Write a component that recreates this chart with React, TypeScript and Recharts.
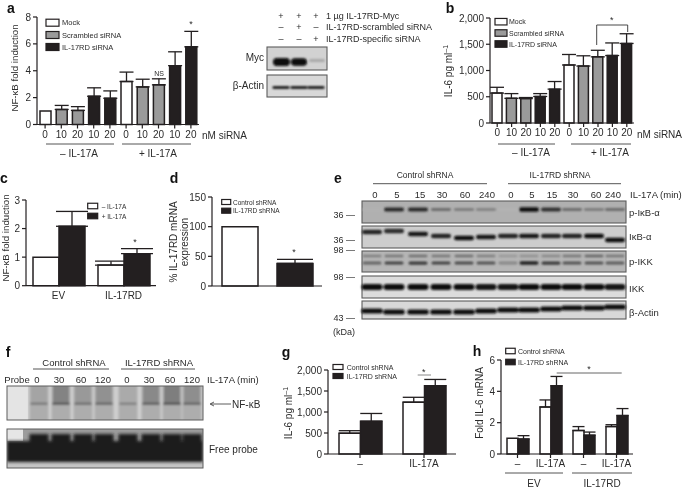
import React from "react";
import { BarChart, Bar, Cell, XAxis, YAxis, ErrorBar } from "recharts";

const INK = "#231f20";
const GREY = "#9a9a9a";
const FONT = "'Liberation Sans', Arial, sans-serif";

// panel a
const aDoses = ["0", "10", "20", "10", "20", "0", "10", "20", "10", "20"];
const aGroups = ["mock", "scr", "scr", "rd", "rd", "mock", "scr", "scr", "rd", "rd"];
const aValues = [1.0, 1.12, 1.05, 2.1, 1.95, 3.2, 2.8, 2.95, 4.38, 5.78];
const aErrors = [0, 0.3, 0.28, 0.63, 0.55, 0.7, 0.57, 0.45, 1.03, 1.15];

// panel b
const bValues = [570, 470, 465, 505, 645, 1105, 1085, 1260, 1285, 1515];
const bErrors = [110, 90, 20, 55, 145, 200, 195, 125, 240, 185];

// panel c
const cCategories = ["EV", "IL-17RD"];
const cMinus = [1, 0.72];
const cMinusErr = [0, 0.14];
const cPlus = [2.08, 1.12];
const cPlusErr = [0.52, 0.18];

// panel d
const dCategories = ["Control shRNA", "IL-17RD shRNA"];
const dValues = [100, 38];
const dErrors = [0, 7];

// panel g
const gCategories = ["–", "IL-17A"];
const gControl = [495, 1235];
const gControlErr = [60, 115];
const gKnock = [780, 1625];
const gKnockErr = [185, 150];

// panel h
const hCategories = ["–", "IL-17A", "–", "IL-17A"];
const hControl = [1, 3.0, 1.5, 1.75];
const hControlErr = [0, 0.45, 0.25, 0.12];
const hKnock = [0.95, 4.35, 1.2, 2.45];
const hKnockErr = [0.22, 0.6, 0.2, 0.45];

// blot band darkness per lane
const eLabels = ["0", "5", "15", "30", "60", "240", "0", "5", "15", "30", "60", "240"];
const ePIkb = [0.03, 0.85, 0.85, 0.45, 0.4, 0.35, 0.02, 1, 0.8, 0.45, 0.4, 0.45];
const eIkb = [0.9, 0.85, 0.95, 0.9, 1, 0.95, 0.9, 0.95, 0.9, 0.9, 1, 1];
const ePIkkUpper = [0.35, 0.4, 0.45, 0.4, 0.45, 0.35, 0.2, 0.25, 0.3, 0.4, 0.5, 0.4];
const ePIkkLower = [0.5, 0.7, 0.75, 0.7, 0.65, 0.6, 0.3, 0.9, 0.75, 0.6, 0.6, 0.55];
const eIkk = [1, 1, 1, 1, 1, 0.95, 0.95, 1, 1, 1, 1, 0.95];
const eActin = [1, 1, 1, 1, 1, 1, 1, 1, 1, 1, 1, 1];
const fLabels = ["0", "30", "60", "120", "0", "30", "60", "120"];
const fNfkb = [0.2, 0.8, 0.4, 0.55, 0.1, 0.7, 0.9, 0.6];

// layout of the blots
const eLaneX = [372, 394, 418, 441, 464, 486, 508, 529, 551, 572, 594, 615];
const eLabelX = [375, 397, 420, 442, 465, 487, 511, 532, 552, 573, 596, 613];
const eIkbY = [232, 231, 234, 236, 238, 237, 236, 236, 236, 236, 236, 240];
const eActinY = [311, 312, 312, 312, 312, 311, 310, 310, 309, 308, 308, 307];
const fLaneX = [39, 61, 83, 104, 128, 151, 172, 192];
const fLabelX = [37, 59, 81, 103, 127, 149, 170, 192];

const bandColors: Record<string, string> = { mock: "#fff", scr: GREY, rd: INK };

const errOf = (e: number) => (e ? [0, e] : null);
const oneSeries = (cats: string[], vals: number[], errs: number[]) =>
  cats.map((c, i) => ({ cat: c, v: vals[i], e: errOf(errs[i]) }));
const twoSeries = (cats: string[], v1: number[], e1: number[], v2: number[], e2: number[]) =>
  cats.map((c, i) => ({ cat: c, v1: v1[i], e1: errOf(e1[i]), v2: v2[i], e2: errOf(e2[i]) }));

const Y_W = 34;
const PAD = 6;

function Plot({ plot, data, domain, ticks, barSize, colors, two, capWidth = 7, tickX = true, labelX = true }: any) {
  const [l, t, r, b] = plot;
  const axis = { stroke: INK, strokeWidth: 1.2 };
  const tick = { fontSize: 10, fill: "#2b2b2b", fontFamily: FONT };
  return (
    <div style={{ position: "absolute", left: l - Y_W, top: t - PAD }}>
      <BarChart
        width={r - l + Y_W + 4}
        height={b - t + PAD + 22}
        data={data}
        barGap={0}
        barSize={barSize}
        margin={{ top: PAD, right: 4, left: 0, bottom: 0 }}
      >
        <XAxis
          dataKey="cat"
          interval={0}
          height={22}
          axisLine={axis}
          tick={labelX ? tick : false}
          tickLine={tickX ? axis : false}
          tickSize={4}
        />
        <YAxis
          width={Y_W}
          type="number"
          domain={domain}
          ticks={ticks}
          axisLine={axis}
          tickLine={axis}
          tickSize={4}
          tick={tick}
          tickFormatter={(v: number) => v.toLocaleString("en-US")}
        />
        {two ? (
          [["v1", "e1", "#fff"], ["v2", "e2", INK]].map(([k, e, fill]) => (
            <Bar key={k} dataKey={k} fill={fill} stroke={INK} strokeWidth={1.5} isAnimationActive={false}>
              <ErrorBar dataKey={e} width={capWidth} stroke={INK} strokeWidth={1.3} isAnimationActive={false} />
            </Bar>
          ))
        ) : (
          <Bar dataKey="v" stroke={INK} strokeWidth={1.5} isAnimationActive={false}>
            {data.map((_: any, i: number) => (
              <Cell key={i} fill={colors[i]} />
            ))}
            <ErrorBar dataKey="e" width={capWidth} stroke={INK} strokeWidth={1.3} isAnimationActive={false} />
          </Bar>
        )}
      </BarChart>
    </div>
  );
}

function T({ x, y, size = 9.5, anchor = "start", weight, rot, fill = "#2b2b2b", children }: any) {
  return (
    <text
      x={x}
      y={y}
      fontSize={size}
      textAnchor={anchor}
      fontWeight={weight}
      fill={fill}
      dominantBaseline="central"
      transform={rot ? `rotate(${rot} ${x} ${y})` : undefined}
    >
      {children}
    </text>
  );
}

const Line = ({ x1, x2, y, c = "#555", w = 1 }: any) => <line x1={x1} x2={x2} y1={y} y2={y} stroke={c} strokeWidth={w} />;

function Legend({ x, ys, w, h, tx, items, size = 7.5 }: any) {
  return (
    <g>
      {items.map(([label, fill]: string[], i: number) => (
        <g key={i}>
          <rect x={x} y={ys[i] - h / 2} width={w} height={h} fill={fill} stroke={INK} strokeWidth={1.2} />
          <T x={tx} y={ys[i]} size={size}>{label}</T>
        </g>
      ))}
    </g>
  );
}

// blurred western blot band, a rounded block centred on the lane
function Band({ x, y, hw, th, d }: any) {
  const v = Math.round(185 - d * 170);
  return <rect x={x - hw} y={y - th / 2} width={hw * 2} height={th} rx={th / 2} fill={`rgb(${v},${v},${v})`} />;
}

function Blot({ x, y, w, h, bg }: any) {
  return <rect x={x} y={y} width={w} height={h} fill={bg} stroke="#5c5c5c" strokeWidth={1.1} />;
}

const YTitle = ({ x, y, children, size = 10 }: any) => <T x={x} y={y} size={size} anchor="middle" rot={-90}>{children}</T>;

export default function App() {
  const il6 = (
    <>
      IL-6 pg ml<tspan dy={-3} fontSize={7}>–1</tspan>
    </>
  );
  const siRna = [["Mock", "#fff"], ["Scrambled siRNA", GREY], ["IL-17RD siRNA", INK]];
  const shRna = [["Control shRNA", "#fff"], ["IL-17RD shRNA", INK]];
  return (
    <div style={{ position: "absolute", left: 0, top: 0, width: 685, height: 488, background: "#fff", overflow: "hidden", fontFamily: FONT, filter: "blur(0.35px)" }}>
      <Plot plot={[37, 16.5, 199, 124]} data={oneSeries(aDoses, aValues, aErrors)} domain={[0, 8]} ticks={[0, 2, 4, 6, 8]} barSize={11} colors={aGroups.map((g) => bandColors[g])} />
      <Plot plot={[490, 18, 634, 123]} data={oneSeries(aDoses, bValues, bErrors)} domain={[0, 2000]} ticks={[0, 500, 1000, 1500, 2000]} barSize={10} colors={aGroups.map((g) => bandColors[g])} />
      <Plot plot={[26, 200, 156, 285.7]} data={twoSeries(cCategories, cMinus, cMinusErr, cPlus, cPlusErr)} domain={[0, 3]} ticks={[0, 1, 2, 3]} barSize={26} two capWidth={16} tickX={false} />
      <Plot plot={[212, 196.7, 322, 285.7]} data={oneSeries(dCategories, dValues, dErrors)} domain={[0, 150]} ticks={[0, 50, 100, 150]} barSize={36} colors={["#fff", INK]} capWidth={18} tickX={false} labelX={false} />
      <Plot plot={[328, 370, 456, 454]} data={twoSeries(gCategories, gControl, gControlErr, gKnock, gKnockErr)} domain={[0, 2000]} ticks={[0, 500, 1000, 1500, 2000]} barSize={21.5} two capWidth={11} />
      <Plot plot={[500.5, 360, 632.5, 454]} data={twoSeries(hCategories, hControl, hControlErr, hKnock, hKnockErr)} domain={[0, 6]} ticks={[0, 2, 4, 6]} barSize={11} two capWidth={6} />

      <svg width={685} height={488} style={{ position: "absolute", left: 0, top: 0, fontFamily: FONT, pointerEvents: "none" }}>
        <defs>
          <filter id="soft" x="-30%" y="-100%" width="160%" height="300%">
            <feGaussianBlur stdDeviation="0.9" />
          </filter>
          <filter id="softer" x="-10%" y="-10%" width="120%" height="120%">
            <feGaussianBlur stdDeviation="1.4" />
          </filter>
          <clipPath id="gel1"><rect x={7} y={386} width={196} height={34} /></clipPath>
          <clipPath id="gel2"><rect x={7} y={429} width={196} height={39} /></clipPath>
        </defs>

        {/* panel letters */}
        {[["a", 11, 8], ["b", 450, 8], ["c", 4, 178], ["d", 174, 178], ["e", 338, 178], ["f", 8, 352], ["g", 286, 352], ["h", 477, 351]].map(([s, x, y]: any) => (
          <T key={s} x={x} y={y} size={14} anchor="middle" weight="bold" fill="#111">{s}</T>
        ))}

        {/* a */}
        <YTitle x={14} y={68} size={9.7}>NF-κB fold induction</YTitle>
        <Legend x={46} ys={[22.7, 35, 47]} w={13} h={7} tx={62} items={siRna} />
        <T x={159} y={73} size={7} anchor="middle">NS</T>
        <T x={191} y={24} size={9} anchor="middle">*</T>
        <T x={202} y={135.7} size={10}>nM siRNA</T>
        <Line x1={46} x2={114} y={144} />
        <Line x1={122} x2={191} y={144} />
        <T x={79} y={153} size={10} anchor="middle">– IL-17A</T>
        <T x={158} y={153} size={10} anchor="middle">+ IL-17A</T>

        {/* blot next to a */}
        {[["+", "+", "+"], ["–", "+", "–"], ["–", "–", "+"]].map((row, i) =>
          row.map((s, j) => <T key={`${i}${j}`} x={[281, 299, 316][j]} y={[16, 27, 39][i]} size={9} anchor="middle">{s}</T>)
        )}
        <T x={326} y={16} size={9}>1 µg IL-17RD-Myc</T>
        <T x={326} y={27} size={9}>IL-17RD-scrambled siRNA</T>
        <T x={326} y={39} size={9}>IL-17RD-specific siRNA</T>
        <T x={264} y={57} size={10} anchor="end">Myc</T>
        <T x={264} y={85} size={10} anchor="end">β-Actin</T>
        <Blot x={267} y={47} w={60} h={23} bg="#d2d2d2" />
        <Blot x={267} y={75} w={60} h={22} bg="#d8d8d8" />
        <g filter="url(#soft)">
          <Band x={281.5} y={62} hw={8.5} th={8} d={1.05} />
          <Band x={299} y={62} hw={8} th={7.5} d={1.05} />
          <Band x={317} y={60.5} hw={8} th={3} d={0.1} />
        </g>
        <g filter="url(#soft)">
          {[281, 299, 316].map((x) => <Band key={x} x={x} y={87.5} hw={8.5} th={2.4} d={1.05} />)}
        </g>

        {/* b */}
        <YTitle x={448} y={71}>{il6}</YTitle>
        <Legend x={495} ys={[21.7, 33, 44]} w={12} h={6.5} tx={509} items={siRna} size={7} />
        <path d="M596.7 45 V25 H627.7 V32" fill="none" stroke="#333" strokeWidth={0.9} />
        <T x={611.7} y={20} size={9} anchor="middle">*</T>
        <T x={637} y={134} size={10}>nM siRNA</T>
        <Line x1={498} x2={555} y={144} />
        <Line x1={571} x2={631} y={144} />
        <T x={531} y={152.5} size={10} anchor="middle">– IL-17A</T>
        <T x={610} y={152.5} size={10} anchor="middle">+ IL-17A</T>

        {/* c */}
        <YTitle x={5} y={238} size={9.7}>NF-κB fold induction</YTitle>
        <Legend x={87.7} ys={[206, 216]} w={10} h={5.5} tx={101.7} items={[["– IL-17A", "#fff"], ["+ IL-17A", INK]]} size={6.5} />
        <T x={135} y={242} size={9} anchor="middle">*</T>

        {/* d */}
        <YTitle x={173} y={242}>% IL-17RD mRNA</YTitle>
        <YTitle x={184} y={242}>expression</YTitle>
        <Legend x={221.7} ys={[202, 210.7]} w={9} h={5} tx={233} items={shRna} size={6.5} />
        <T x={294} y={252} size={9} anchor="middle">*</T>

        {/* e */}
        <T x={425} y={175} size={8.5} anchor="middle">Control shRNA</T>
        <T x={560} y={175} size={8.5} anchor="middle">IL-17RD shRNA</T>
        <Line x1={373} x2={487} y={183.7} />
        <Line x1={508} x2={621} y={183.7} />
        {eLabels.map((s, i) => <T key={i} x={eLabelX[i]} y={194} size={9.5} anchor="middle">{s}</T>)}
        <T x={630} y={194} size={9.5}>IL-17A (min)</T>
        <Blot x={362} y={201} w={264} h={22} bg="#b0b0b0" />
        <Blot x={362} y={226} w={264} h={22} bg="#cdcdcd" />
        <Blot x={362} y={251} w={264} h={21} bg="#b6b6b6" />
        <Blot x={362} y={276} w={264} h={22} bg="#dcdcdc" />
        <Blot x={362} y={301} w={264} h={18} bg="#d8d8d8" />
        <g filter="url(#soft)">
          {ePIkb.map((d, i) => <Band key={i} x={eLaneX[i]} y={209.5} hw={10} th={1.5 + 3 * d} d={d} />)}
          {eIkb.map((d, i) => <Band key={i} x={eLaneX[i]} y={eIkbY[i]} hw={10} th={4.5} d={d} />)}
          {ePIkkUpper.map((d, i) => <Band key={i} x={eLaneX[i]} y={256} hw={9.5} th={2.5} d={d} />)}
          {ePIkkLower.map((d, i) => <Band key={i} x={eLaneX[i]} y={263} hw={9.5} th={2.5 + d} d={d} />)}
          {eIkk.map((d, i) => <Band key={i} x={eLaneX[i]} y={287} hw={10.5} th={6} d={d} />)}
          {eActin.map((d, i) => <Band key={i} x={eLaneX[i]} y={eActinY[i]} hw={10.8} th={5} d={d} />)}
        </g>
        {[["36 —", 215], ["36 —", 240], ["98 —", 250], ["98 —", 277], ["43 —", 318]].map(([s, y]: any, i) => (
          <T key={i} x={355} y={y} size={9} anchor="end">{s}</T>
        ))}
        <T x={333} y={332} size={9}>(kDa)</T>
        {[["p-IκB-α", 212], ["IκB-α", 236], ["p-IKK", 261], ["IKK", 288], ["β-Actin", 312]].map(([s, y]: any) => (
          <T key={s} x={629} y={y} size={9.5}>{s}</T>
        ))}

        {/* f */}
        <T x={74} y={362} size={9.5} anchor="middle">Control shRNA</T>
        <T x={159} y={362} size={9.5} anchor="middle">IL-17RD shRNA</T>
        <Line x1={33} x2={109} y={369} />
        <Line x1={121} x2={195} y={369} />
        <T x={17} y={379} size={9.5} anchor="middle">Probe</T>
        {fLabels.map((s, i) => <T key={i} x={fLabelX[i]} y={379} size={9.5} anchor="middle">{s}</T>)}
        <T x={207} y={379} size={9.5}>IL-17A (min)</T>
        <rect x={7} y={386} width={196} height={34} fill="#cfcfcf" />
        <rect x={7} y={386} width={21} height={34} fill="#e4e4e4" />
        <g clipPath="url(#gel1)" filter="url(#soft)">
          {fNfkb.map((d, i) => {
            const g = Math.round(175 - d * 55);
            return (
              <g key={i}>
                <rect x={fLaneX[i] - 9.5} y={384} width={19} height={38} fill="#adadad" />
                <rect x={fLaneX[i] - 8} y={385} width={16} height={18} fill={`rgb(${g},${g},${g})`} />
                <rect x={fLaneX[i] - 8.5} y={402.5} width={17} height={2.5} fill={`rgb(${g - 40},${g - 40},${g - 40})`} />
              </g>
            );
          })}
        </g>
        <rect x={7} y={386} width={196} height={34} fill="none" stroke="#5c5c5c" />
        <line x1={231} x2={211} y1={404} y2={404} stroke="#333" strokeWidth={0.8} />
        <path d="M214 402 L210 404 L214 406" fill="none" stroke="#333" strokeWidth={0.8} />
        <T x={232} y={404} size={10}>NF-κB</T>
        <rect x={7} y={429} width={196} height={39} fill="#9c9c9c" />
        <g clipPath="url(#gel2)">
          <rect x={7} y={429} width={16} height={12} fill="#e6e6e6" />
          <rect x={7} y={461} width={196} height={7} fill="#c4c4c4" />
          <g filter="url(#softer)">
            <rect x={7} y={441} width={196} height={21} fill="#1c1c1c" />
            {fLaneX.map((x) => <rect key={x} x={x - 9.5} y={434} width={19} height={14} fill="#1c1c1c" />)}
          </g>
        </g>
        <rect x={7} y={429} width={196} height={39} fill="none" stroke="#5c5c5c" />
        <T x={209} y={449} size={10}>Free probe</T>

        {/* g */}
        <YTitle x={288} y={413}>{il6}</YTitle>
        <Legend x={333} ys={[367, 376]} w={10} h={5} tx={346.7} items={shRna} size={7} />
        <T x={423.7} y={372} size={9} anchor="middle">*</T>
        <Line x1={417.7} x2={431} y={375} c="#888" />

        {/* h */}
        <YTitle x={479} y={403}>Fold IL-6 mRNA</YTitle>
        <Legend x={505.7} ys={[351, 362]} w={9.5} h={5.5} tx={518} items={shRna} size={7} />
        <T x={589} y={369} size={9} anchor="middle">*</T>
        <Line x1={556.7} x2={621.7} y={373} c="#666" />
        <Line x1={505} x2={563} y={473} />
        <Line x1={572} x2={632} y={473} />
        <T x={534} y={483} size={10} anchor="middle">EV</T>
        <T x={602} y={483} size={10} anchor="middle">IL-17RD</T>
      </svg>
    </div>
  );
}
